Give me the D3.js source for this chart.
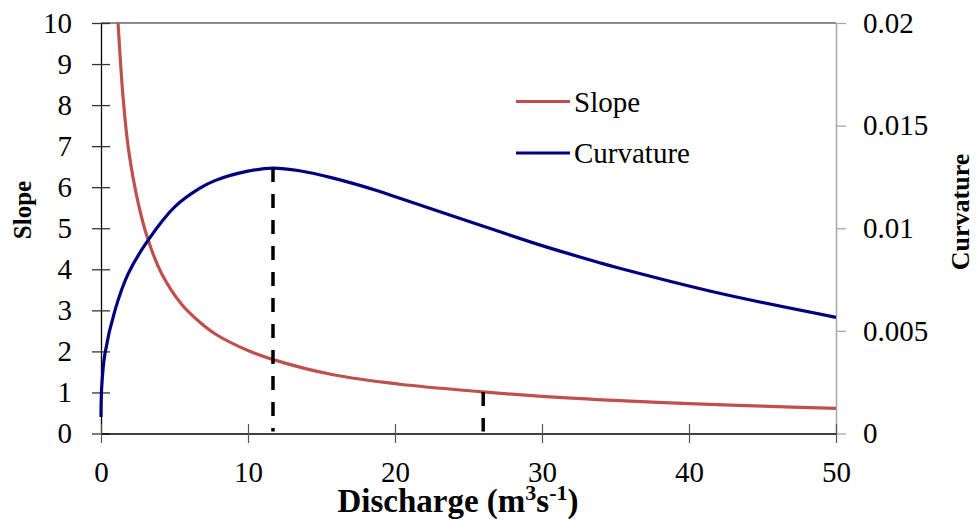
<!DOCTYPE html>
<html>
<head>
<meta charset="utf-8">
<script src="https://cdn.jsdelivr.net/npm/d3@7"></script>
<style>
  body { margin: 0; background: #fff; }
  text { font-family: "Liberation Serif", "Times New Roman", serif; fill: #000; }
</style>
</head>
<body>
<svg id="chart" width="976" height="525"></svg>
<script>
// discharge (m3/s) vs slope
var slopeQ = [1.16, 1.5, 1.86, 2.54, 3.22, 4.12, 5.48, 6.73, 7.75, 10, 11.71, 15.8, 20.33, 25.76, 30, 35.28, 40, 45, 50]
var slopeVal = [10, 8.2, 6.95, 5.6, 4.7, 3.9, 3.15, 2.71, 2.43, 2.02, 1.80, 1.43, 1.2, 1.02, 0.905, 0.80, 0.728, 0.665, 0.61]

// discharge vs curvature (right axis)
var curvQ = [0, 0.05, 0.27, 0.95, 1.86, 3.22, 5.03, 6.73, 7.75, 10, 11.71, 13.5, 15.8, 18.97, 20.33, 25.76, 29.84, 33.92, 35.28, 42.08, 50]
var curvVal = [0.0008, 0.0023, 0.0039, 0.006, 0.0078, 0.00943, 0.01105, 0.01195, 0.01232, 0.01278, 0.01293, 0.0128, 0.01244, 0.01179, 0.01146, 0.01016, 0.00919, 0.00832, 0.00805, 0.00683, 0.00566]

// vertical dashed markers: curvature peak and slope at Q=26
var markerQ = [11.7, 26]
var markerTop = [{ axis: 'right', v: 0.01293 }, { axis: 'left', v: 1.01 }]

var xTicks = [0, 10, 20, 30, 40, 50]
var yLeftTicks = [0, 1, 2, 3, 4, 5, 6, 7, 8, 9, 10]
var yRightTicks = [0, 0.005, 0.01, 0.015, 0.02]

// note: "top" is taken by window.top, so prefix these
var pLeft = 101, pRight = 836, pTop = 23, pBottom = 433.5

var svg = d3.select('#chart')

var x = d3.scaleLinear().domain([0, 50]).range([pLeft, pRight])
var yL = d3.scaleLinear().domain([0, 10]).range([pBottom, pTop])
var yR = d3.scaleLinear().domain([0, 0.02]).range([pBottom, pTop])

// top border
svg.append('line')
    .attr('x1', pLeft).attr('x2', pRight)
    .attr('y1', pTop).attr('y2', pTop)
    .attr('stroke', '#666').attr('stroke-width', 1.3)

// right axis
var gR = svg.append('g')
    .attr('transform', 'translate(' + pRight + ',0)')
    .call(d3.axisRight(yR).tickValues(yRightTicks).tickSize(10).tickSizeOuter(0).tickPadding(17)
        .tickFormat(d => d === 0 ? '0' : String(+d.toFixed(3))))
gR.select('.domain').attr('stroke', '#a6a6a6').attr('stroke-width', 1.5)
gR.selectAll('.tick line').attr('stroke', '#a6a6a6').attr('stroke-width', 1.3)
gR.selectAll('.tick text').style('font-size', '29px')

// left axis
var gL = svg.append('g')
    .attr('transform', 'translate(' + pLeft + ',0)')
    .call(d3.axisLeft(yL).tickValues(yLeftTicks).tickSize(9).tickSizeOuter(0).tickPadding(20))
gL.select('.domain').attr('stroke', '#000').attr('stroke-width', 1.3)
gL.selectAll('.tick line').attr('x1', 9).attr('stroke', '#333').attr('stroke-width', 1.3)
gL.selectAll('.tick text').style('font-size', '29px')

// bottom axis
var gB = svg.append('g')
    .attr('transform', 'translate(0,' + pBottom + ')')
    .call(d3.axisBottom(x).tickValues(xTicks).tickSize(9.5).tickSizeOuter(0).tickPadding(18.5))
gB.select('.domain').attr('stroke', '#000').attr('stroke-width', 1.3)
gB.selectAll('.tick line').attr('y1', -9.5).attr('stroke', '#555').attr('stroke-width', 1.2)
gB.selectAll('.tick text').style('font-size', '29px')

// curves
var slopeLine = d3.line()
    .x((d, i) => x(slopeQ[i]))
    .y(d => yL(d))
    .curve(d3.curveCatmullRom.alpha(0.5))

var curvLine = d3.line()
    .x((d, i) => x(curvQ[i]))
    .y(d => yR(d))
    .curve(d3.curveCatmullRom.alpha(0.5))

svg.append('path')
    .datum(slopeVal)
    .attr('d', slopeLine)
    .attr('fill', 'none')
    .attr('stroke', '#C0504D')
    .attr('stroke-width', 3.2)

svg.append('path')
    .datum(curvVal)
    .attr('d', curvLine)
    .attr('fill', 'none')
    .attr('stroke', '#000080')
    .attr('stroke-width', 3.2)

// dashed markers
svg.selectAll('.marker')
    .data(markerQ)
    .enter()
    .append('line')
    .attr('class', 'marker')
    .attr('x1', d => x(d)).attr('x2', d => x(d))
    .attr('y1', (d, i) => markerTop[i].axis === 'right' ? yR(markerTop[i].v) : yL(markerTop[i].v))
    .attr('y2', pBottom - 2)
    .attr('stroke', '#000')
    .attr('stroke-width', 3.5)
    .attr('stroke-dasharray', '14,12')

// legend
var legend = [{ name: 'Slope', color: '#C0504D', y: 101.5 }, { name: 'Curvature', color: '#000080', y: 153 }]
var lg = svg.selectAll('.legend')
    .data(legend)
    .enter()
    .append('g')
    .attr('class', 'legend')
lg.append('line')
    .attr('x1', 516).attr('x2', 570)
    .attr('y1', d => d.y).attr('y2', d => d.y)
    .attr('stroke', d => d.color)
    .attr('stroke-width', 3.2)
lg.append('text')
    .attr('x', 574)
    .attr('y', d => d.y + 10)
    .style('font-size', '29px')
    .text(d => d.name)

// axis titles
var xt = svg.append('text')
    .attr('x', 458).attr('y', 512)
    .attr('text-anchor', 'middle')
    .style('font-size', '33px')
    .style('font-weight', 'bold')
xt.append('tspan').text('Discharge (m')
xt.append('tspan').text('3').attr('dy', -12).style('font-size', '22px')
xt.append('tspan').text('s').attr('dy', 12)
xt.append('tspan').text('-1').attr('dy', -12).style('font-size', '22px')
xt.append('tspan').text(')').attr('dy', 12)

svg.append('text')
    .attr('transform', 'translate(31,210) rotate(-90)')
    .attr('text-anchor', 'middle')
    .style('font-size', '25px')
    .style('font-weight', 'bold')
    .text('Slope')

svg.append('text')
    .attr('transform', 'translate(969,212) rotate(-90)')
    .attr('text-anchor', 'middle')
    .style('font-size', '26px')
    .style('font-weight', 'bold')
    .text('Curvature')
</script>
</body>
</html>
